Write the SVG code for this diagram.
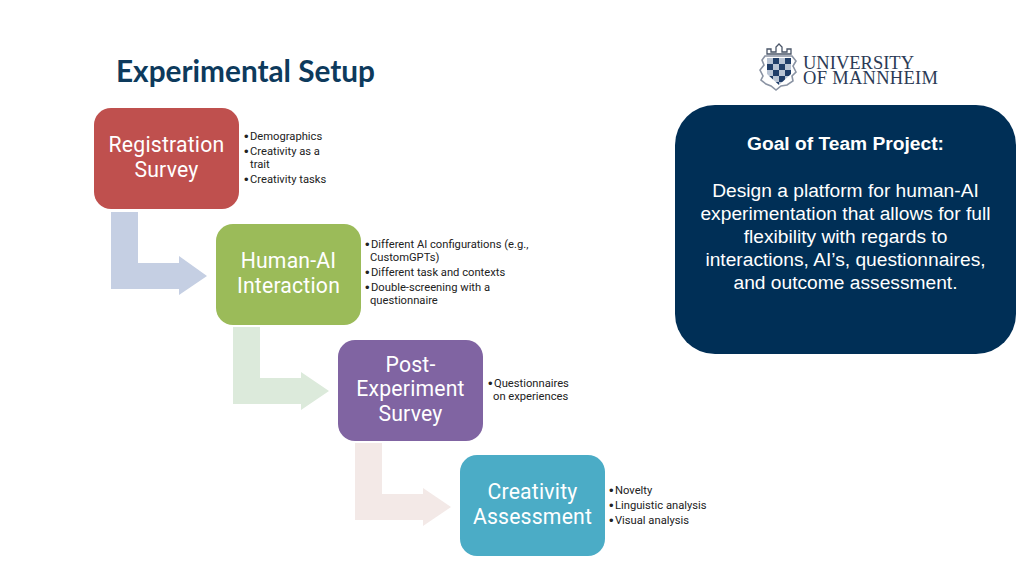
<svg xmlns="http://www.w3.org/2000/svg" width="1024" height="576" viewBox="0 0 1024 576">
<style>
.bt{font-family:Roboto,"Noto Sans",sans-serif;font-size:21.2px;fill:#fff;text-anchor:middle;letter-spacing:.2px}
.li{font-family:Roboto,"Noto Sans",sans-serif;font-size:11.200px;fill:#222}
.bu{font-family:"Liberation Sans",sans-serif;font-size:13px;fill:#222}
.g{font-family:"Liberation Sans",Arial,sans-serif;font-size:19.200px;fill:#fff;text-anchor:middle}
.lg{font-family:"Liberation Serif",serif;fill:#2b3a55;font-size:18.500px}
</style>
<defs><pattern id="chk" x="767" y="58" width="12" height="12" patternUnits="userSpaceOnUse"><rect width="12" height="12" fill="#1f3d68"/><rect width="6" height="6" fill="#b9c4d4"/><rect x="6" y="6" width="6" height="6" fill="#b9c4d4"/></pattern></defs>
<rect width="1024" height="576" fill="#fff"/>
<text id="title" x="116" y="82" font-family="Lato,'Open Sans',sans-serif" font-weight="700" font-size="30px" fill="#0d3a5c" textLength="259" lengthAdjust="spacingAndGlyphs">Experimental Setup</text>
<g id="logo">
<path d="M765 56L762 60L764 65L760 70L763 76L761 80L766 84L771 86L776 90L781 86L787 85L793 81L792 76L796 72L793 66L796 61L792 56Z" fill="#fff" stroke="#8a93a3" stroke-width="1.6"/>
<path d="M767 58H791V74L779 85L767 74Z" fill="url(#chk)"/>
<path d="M767 54V49H771V52H776V47L779 44L782 47V52H787V49H791V54Z" fill="none" stroke="#4a5568" stroke-width="1.3"/>
<text class="lg" x="803" y="69" textLength="111" lengthAdjust="spacing">UNIVERSITY</text>
<text class="lg" x="803" y="84" textLength="135" lengthAdjust="spacing">OF MANNHEIM</text>
</g>
<g id="connectors">
<path d="M111 212H138V263H179V256L207 276L179 295V289H111Z" fill="#c5cfe3"/>
<path d="M233 327H260V378H301V372L329 391L301 410V404H233Z" fill="#dceadb"/>
<path d="M355 443H382V494H423V488L451 507L423 526V520H355Z" fill="#f3e9e7"/>
</g>
<g id="n1"><rect x="94" y="108" width="145" height="101" rx="17" fill="#bf504e"/>
<text class="bt" x="166.500" y="152">Registration</text><text class="bt" x="166.500" y="177">Survey</text>
<text class="bu" x="244" y="141">•</text><text class="li" x="250" y="140">Demographics</text><text class="bu" x="244" y="156">•</text><text class="li" x="250" y="155">Creativity as a</text><text class="li" x="250" y="168">trait</text><text class="bu" x="244" y="184">•</text><text class="li" x="250" y="183">Creativity tasks</text></g>
<g id="n2"><rect x="216" y="224" width="145" height="101" rx="17" fill="#9bbb59"/>
<text class="bt" x="288.500" y="268">Human-AI</text><text class="bt" x="288.500" y="293">Interaction</text>
<text class="bu" x="365" y="249">•</text><text class="li" x="371" y="248">Different AI configurations (e.g.,</text><text class="li" x="370" y="261">CustomGPTs)</text><text class="bu" x="365" y="277">•</text><text class="li" x="371" y="276">Different task and contexts</text><text class="bu" x="365" y="292">•</text><text class="li" x="371" y="291">Double-screening with a</text><text class="li" x="370" y="304">questionnaire</text></g>
<g id="n3"><rect x="338" y="340" width="145" height="101" rx="17" fill="#8064a2"/>
<text class="bt" x="410.500" y="372">Post-</text><text class="bt" x="410.500" y="396">Experiment</text><text class="bt" x="410.500" y="421">Survey</text>
<text class="bu" x="488" y="388">•</text><text class="li" x="494" y="387">Questionnaires</text><text class="li" x="493" y="400">on experiences</text></g>
<g id="n4"><rect x="460" y="455" width="145" height="101" rx="17" fill="#4bacc6"/>
<text class="bt" x="532.500" y="499">Creativity</text><text class="bt" x="532.500" y="524">Assessment</text>
<text class="bu" x="609" y="495">•</text><text class="li" x="615" y="494">Novelty</text><text class="bu" x="609" y="510">•</text><text class="li" x="615" y="509">Linguistic analysis</text><text class="bu" x="609" y="525">•</text><text class="li" x="615" y="524">Visual analysis</text></g>
<g id="goal"><rect x="675" y="105" width="341" height="249" rx="40" fill="#002f56"/>
<text class="g" x="845.500" y="150" font-weight="700">Goal of Team Project:</text>
<text class="g" x="845.500" y="197">Design a platform for human-AI</text>
<text class="g" x="845.500" y="220">experimentation that allows for full</text>
<text class="g" x="845.500" y="243">flexibility with regards to</text>
<text class="g" x="845.500" y="266">interactions, AI’s, questionnaires,</text>
<text class="g" x="845.500" y="289">and outcome assessment.</text></g>
</svg>
